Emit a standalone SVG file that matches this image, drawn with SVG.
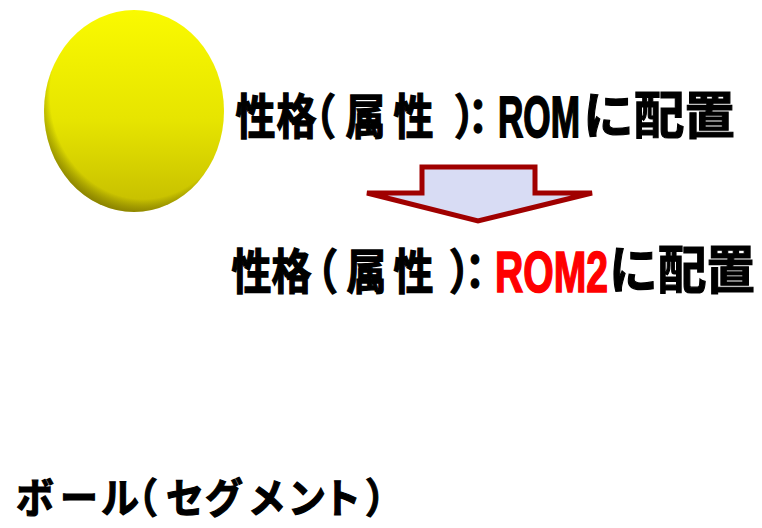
<svg xmlns="http://www.w3.org/2000/svg" width="762" height="528" viewBox="0 0 762 528">
  <defs>
    <linearGradient id="ballFill" x1="0" y1="0" x2="0" y2="1">
      <stop offset="0" stop-color="#fafa00"/>
      <stop offset="0.55" stop-color="#e6e400"/>
      <stop offset="1" stop-color="#c4bc00"/>
    </linearGradient>
    <radialGradient id="ballRim" cx="0.55" cy="0.42" r="0.6">
      <stop offset="0.86" stop-color="#000" stop-opacity="0"/>
      <stop offset="1" stop-color="#3a3000" stop-opacity="0.45"/>
    </radialGradient>
    <style>
      .lbl { font-family: "Noto Sans CJK JP", "Liberation Sans", sans-serif; font-weight: bold; fill: #000; stroke: #000; stroke-width: 1.1; }
      .lat { font-family: "Liberation Sans", "Noto Sans CJK JP", sans-serif; font-weight: bold; }
      .hl { fill: #ff0000; stroke: #ff0000; }
      .arrow { fill: #d8dcf4; stroke: #a00000; stroke-width: 5; stroke-linejoin: miter; }
    </style>
  </defs>

  <rect width="762" height="528" fill="#ffffff"/>

  <!-- ball -->
  <g id="ball">
    <ellipse cx="134" cy="111" rx="90" ry="101" fill="url(#ballFill)"/>
    <ellipse cx="134" cy="111" rx="90" ry="101" fill="url(#ballRim)"/>
  </g>

  <!-- attribute placed in ROM (condensed, tall lettering, glyphs set one by one) -->
  <g id="attr-rom">
    <text class="lbl" transform="translate(0,134) scale(1,1.2)" font-size="40" x="235.5 276.5 296 345.5 393.5 454 458" y="0">性格（属性）：</text>
    <text class="lbl lat" transform="translate(498,137) scale(1,1.65)" font-size="35.1">ROM</text>
    <text class="lbl" transform="translate(583,134) scale(1,1.02)" font-size="50.7">に配置</text>
  </g>

  <!-- connectors -->
  <g id="connectors">
    <path class="arrow" d="M422,167 L535,167 L535,193 L592,193 L478,221 L367,193 L422,193 Z"/>
  </g>

  <!-- attribute placed in ROM2 -->
  <g id="attr-rom2">
    <text class="lbl" transform="translate(0,289) scale(1,1.2)" font-size="40" x="231.5 271.5 298 346.5 393.5 449 455" y="0">性格（属性）：</text>
    <text class="lbl lat hl" transform="translate(495,292) scale(1,1.48)" font-size="39.1">ROM2</text>
    <text class="lbl" transform="translate(609,289) scale(1,1.068)" font-size="48.67">に配置</text>
  </g>

  <!-- segment caption -->
  <g id="segment">
    <text class="lbl" transform="translate(0,513) scale(1,1.08)" font-size="38" x="16 60 101 120 166 205 248 288 323 365" y="0">ボール（セグメント）</text>
  </g>
</svg>
